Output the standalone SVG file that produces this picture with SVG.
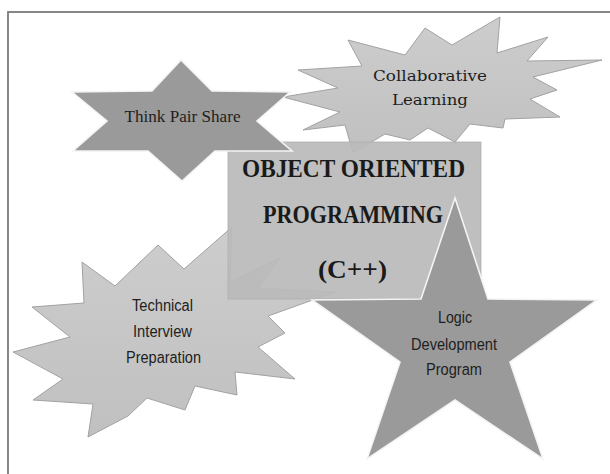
<svg xmlns="http://www.w3.org/2000/svg" width="610" height="474" viewBox="0 0 610 474">
  <defs>
    <linearGradient id="burstFill" x1="0" y1="0" x2="0" y2="1">
      <stop offset="0" stop-color="#cdcdcd"/>
      <stop offset="1" stop-color="#c0c0c0"/>
    </linearGradient>
    <style>
      .frame { fill: #ffffff; stroke: #7a7a7a; stroke-width: 1.8; }
      .burst { fill: url(#burstFill); stroke: #a2a2a2; stroke-width: 1; stroke-linejoin: miter; }
      .star { fill: #9a9a9a; stroke: #f4f4f4; stroke-width: 1.6; stroke-linejoin: miter; }
      .core { fill: #bababa; fill-opacity: 0.93; stroke: #b0b0b0; stroke-width: 0.8; }
      .lbl { fill: #1e1e1e; text-anchor: middle; }
      .serif { font-family: "Liberation Serif", "Times New Roman", serif; font-size: 17px; }
      .slab { font-family: "DejaVu Serif", "Liberation Serif", serif; font-size: 15px; }
      .sans { font-family: "Liberation Sans", Arial, sans-serif; font-size: 16px; }
      .title { font-family: "Liberation Serif", "Times New Roman", serif; font-size: 26px; font-weight: bold; fill: #1a1a1a; text-anchor: middle; }
    </style>
  </defs>

  <!-- page background and frame -->
  <rect x="0" y="0" width="610" height="474" fill="#ffffff"/>
  <rect class="frame" x="8" y="12" width="640" height="500"/>

  <!-- burst: Collaborative Learning -->
  <g id="collaborative-learning">
    <polygon class="burst" points="283,97 338,88 298,70 362,66 348,40 405,55 425,28 452,45 500,17 497,53 548,37 527,61 602,60 533,77 557,90 530,99 560,117 505,119 503,128 470,124 455,142 428,128 410,140 385,134 353,153 345,125 303,130 340,112"/>
    <text class="lbl slab" x="430" y="81" textLength="114" lengthAdjust="spacingAndGlyphs">Collaborative</text>
    <text class="lbl slab" x="430" y="105" textLength="76" lengthAdjust="spacingAndGlyphs">Learning</text>
  </g>

  <!-- burst: Technical Interview Preparation -->
  <g id="technical-interview">
    <polygon class="burst" points="82,262 115,286 158,245 184,269 232,227 230,282 280,258 258,288 335,292 268,316 285,333 258,347 295,379 235,372 237,395 195,386 185,410 147,398 128,416 88,437 93,404 33,400 63,379 13,352 70,337 32,307 84,303"/>
    <text class="lbl sans" x="162.5" y="311" textLength="61" lengthAdjust="spacingAndGlyphs">Technical</text>
    <text class="lbl sans" x="162.5" y="337" textLength="59" lengthAdjust="spacingAndGlyphs">Interview</text>
    <text class="lbl sans" x="163.5" y="363" textLength="75" lengthAdjust="spacingAndGlyphs">Preparation</text>
  </g>

  <!-- central box -->
  <g id="object-oriented-programming">
    <rect class="core" x="228" y="142" width="253" height="157"/>
  </g>

  <!-- six-point star: Think Pair Share -->
  <g id="think-pair-share">
    <polygon class="star" points="181,60 212,91 290,92 257,121 292,151 215,151 182,181 148,151 73,151 107,121 72,92 152,91"/>
    <text class="lbl serif" x="182.5" y="122" textLength="116" lengthAdjust="spacingAndGlyphs">Think Pair Share</text>
  </g>

  <!-- five-point star: Logic Development Program -->
  <g id="logic-development">
    <polygon class="star" points="455,198 488,299 597,300 510,362 543,459 455,400 367,459 400,362 312,300 421,299"/>
    <text class="lbl sans" x="455" y="323" textLength="34" lengthAdjust="spacingAndGlyphs">Logic</text>
    <text class="lbl sans" x="454" y="350" textLength="86" lengthAdjust="spacingAndGlyphs">Development</text>
    <text class="lbl sans" x="454" y="375" textLength="56" lengthAdjust="spacingAndGlyphs">Program</text>
  </g>

  <!-- title printed over the central box -->
  <g id="title">
    <text class="title" x="353.5" y="177" textLength="223" lengthAdjust="spacingAndGlyphs">OBJECT ORIENTED</text>
    <text class="title" x="353" y="223" textLength="180" lengthAdjust="spacingAndGlyphs">PROGRAMMING</text>
    <text class="title" x="352.5" y="278" font-size="28" textLength="69" lengthAdjust="spacingAndGlyphs" font-weight="normal">(C++)</text>
  </g>

  <g id="connectors"/>
</svg>
